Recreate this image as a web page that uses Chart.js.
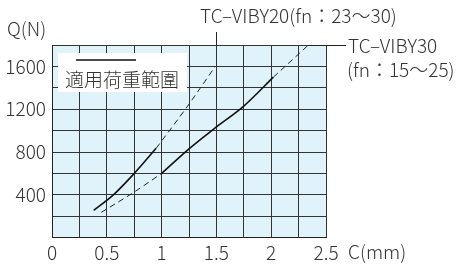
<!DOCTYPE html>
<html>
<head>
<meta charset="utf-8">
<script src="https://cdn.jsdelivr.net/npm/chart.js@4"></script>
<style>
  html, body { margin: 0; padding: 0; background: #fff; }
  #wrap { width: 456px; height: 264px; }
</style>
</head>
<body>
<div id="wrap"><canvas id="loadChart" width="456" height="264"></canvas></div>
<script>
// Deflection C (mm) vs load Q (N)
const viby20SolidC = [0.38, 0.56, 0.75, 0.95];
const viby20SolidQ = [255, 400, 600, 835];
const viby20DashC = [0.95, 1.22, 1.49];
const viby20DashQ = [835, 1205, 1600];

const viby30DashLowC = [0.45, 0.74, 1.0];
const viby30DashLowQ = [237, 420, 600];
const viby30SolidC = [1.0, 1.25, 1.5, 1.75, 2.02];
const viby30SolidQ = [600, 830, 1035, 1230, 1500];
const viby30DashHighC = [2.02, 2.34];
const viby30DashHighQ = [1500, 1800];

const xTicks = [0, 0.5, 1, 1.5, 2, 2.5];
const yTicks = [400, 800, 1200, 1600];

const label20 = 'TC–VIBY20(fn：23～30)';
const label30a = 'TC–VIBY30';
const label30b = '(fn：15～25)';
const legendText = '適用荷重範圍';

const FONT = "'Noto Sans CJK JP', 'Noto Sans', sans-serif";
const TEXT = '#333';

function pts(cs, qs) {
    return cs.map((c, i) => ({ x: c, y: qs[i] }));
}

function solid(cs, qs) {
    return { data: pts(cs, qs), borderColor: '#111', borderWidth: 1.6, pointRadius: 0, showLine: true, cubicInterpolationMode: 'monotone' };
}

function dashed(cs, qs) {
    return { data: pts(cs, qs), borderColor: '#222', borderWidth: 1, borderDash: [6, 4], pointRadius: 0, showLine: true, cubicInterpolationMode: 'monotone' };
}

const plotBackground = {
    id: 'plotBackground',
    beforeDraw(chart) {
        const { ctx, chartArea: a } = chart;
        ctx.save();
        ctx.fillStyle = '#e0f3fa';
        ctx.fillRect(a.left, a.top, a.right - a.left, a.bottom - a.top);
        ctx.restore();
    }
};

const annotations = {
    id: 'annotations',
    afterDraw(chart) {
        const { ctx, chartArea: a } = chart;
        const xs = chart.scales.x, ys = chart.scales.y;
        ctx.save();
        ctx.fillStyle = TEXT;
        ctx.font = `300 19px ${FONT}`;
        ctx.textBaseline = 'middle';
        ctx.textAlign = 'left';
        ctx.fillText('Q(N)', 7, 29);
        ctx.fillText('C(mm)', 348, 252);

        // VIBY20 label + leader
        ctx.fillText(label20, 200, 16);
        ctx.strokeStyle = '#222';
        ctx.lineWidth = 1;
        const lx = Math.round(xs.getPixelForValue(1.5)) + 0.5;
        ctx.beginPath();
        ctx.moveTo(lx, 32);
        ctx.lineTo(lx, a.top);
        ctx.stroke();

        // VIBY30 label + leader
        const ex = xs.getPixelForValue(viby30DashHighC[viby30DashHighC.length - 1]);
        const ey = Math.round(ys.getPixelForValue(1800)) + 0.5;
        ctx.beginPath();
        ctx.moveTo(ex, ey);
        ctx.lineTo(346, ey);
        ctx.stroke();
        ctx.fillText(label30a, 348, 46);
        ctx.fillText(label30b, 347, 70);

        // legend box
        ctx.fillStyle = '#fff';
        ctx.fillRect(58, 53, 129, 39);
        ctx.strokeStyle = '#111';
        ctx.lineWidth = 1.6;
        ctx.beginPath();
        ctx.moveTo(76, 60);
        ctx.lineTo(136, 60);
        ctx.stroke();
        ctx.fillStyle = TEXT;
        ctx.font = `300 19px ${FONT}`;
        ctx.fillText(legendText, 65, 80);
        ctx.restore();
    }
};

new Chart(document.getElementById('loadChart'), {
    type: 'scatter',
    data: {
        datasets: [
            solid(viby20SolidC, viby20SolidQ),
            dashed(viby20DashC, viby20DashQ),
            dashed(viby30DashLowC, viby30DashLowQ),
            solid(viby30SolidC, viby30SolidQ),
            dashed(viby30DashHighC, viby30DashHighQ)
        ]
    },
    options: {
        responsive: false,
        animation: false,
        layout: { padding: { left: 0, right: 130, top: 45, bottom: 0 } },
        plugins: { legend: { display: false }, tooltip: { enabled: false } },
        scales: {
            x: {
                type: 'linear',
                min: 0, max: 2.5,
                afterFit(s) { s.height = 26.3; },
                grid: { color: '#333', lineWidth: 1, drawTicks: false },
                border: { color: '#222' },
                ticks: {
                    stepSize: 0.25,
                    padding: 4,
                    maxRotation: 0,
                    autoSkip: false,
                    color: TEXT,
                    font: { family: FONT, size: 19, weight: 300 },
                    callback: v => xTicks.includes(v) ? String(v) : ''
                }
            },
            y: {
                type: 'linear',
                min: 0, max: 1800,
                afterFit(s) { s.width = 52; },
                grid: { color: '#333', lineWidth: 1, drawTicks: false },
                border: { color: '#222' },
                ticks: {
                    stepSize: 200,
                    padding: 6,
                    autoSkip: false,
                    color: TEXT,
                    font: { family: FONT, size: 19, weight: 300 },
                    callback: v => yTicks.includes(v) ? String(v) : ''
                }
            }
        }
    },
    plugins: [plotBackground, annotations]
});
</script>
</body>
</html>
